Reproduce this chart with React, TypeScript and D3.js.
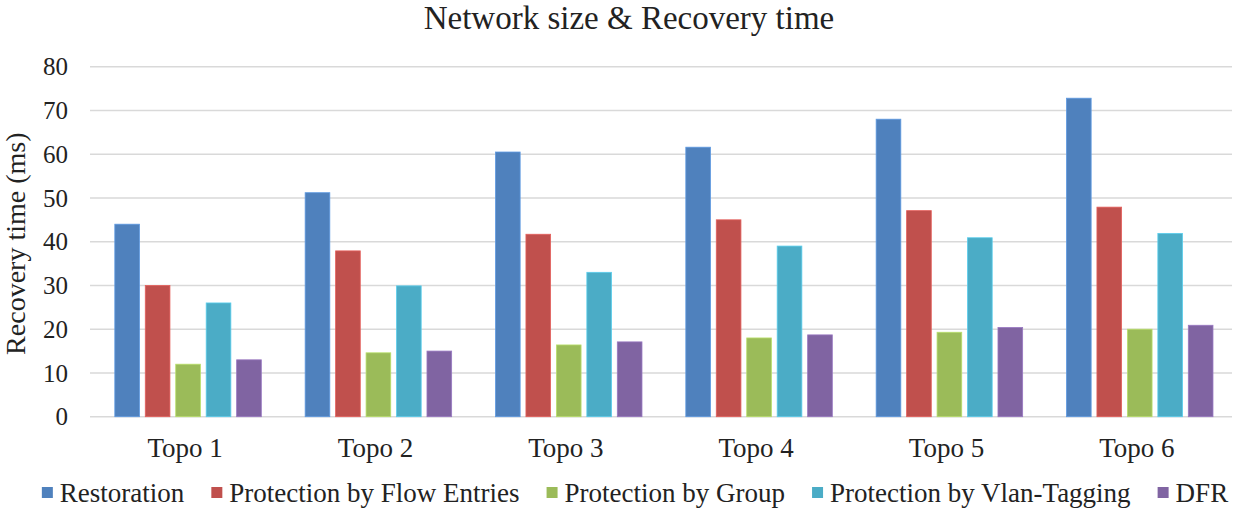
import React, { useEffect, useRef } from "react";
import * as d3 from "d3";

const categories = ["Topo 1", "Topo 2", "Topo 3", "Topo 4", "Topo 5", "Topo 6"];
const seriesNames = [
  "Restoration",
  "Protection by Flow Entries",
  "Protection by Group",
  "Protection by Vlan-Tagging",
  "DFR",
];
const restoration = [44, 51.2, 60.5, 61.6, 68, 72.8];
const flowEntries = [30, 37.9, 41.7, 45, 47.1, 47.9];
const group = [12, 14.6, 16.4, 18, 19.3, 20];
const vlan = [26, 29.9, 33, 39, 40.9, 41.9];
const dfr = [13, 15, 17.1, 18.7, 20.4, 20.9];
const seriesValues = [restoration, flowEntries, group, vlan, dfr];
const colors = ["#4f81bd", "#c0504d", "#9bbb59", "#4bacc6", "#8064a2"];
const yTicks = [0, 10, 20, 30, 40, 50, 60, 70, 80];

const W = 1250;
const H = 508;
const FONT = "'Liberation Serif', 'Times New Roman', serif";

export default function App() {
  const ref = useRef<SVGSVGElement>(null);

  useEffect(() => {
    const svg = d3.select(ref.current);
    svg.selectAll("*").remove();

    const left = 90, right = 1232, top = 66.7, bottom = 416.7;
    const x = d3.scaleBand<string>().domain(categories).range([left, right]).padding(0);
    const y = d3.scaleLinear().domain([0, 80]).range([bottom, top]);
    const inner = d3
      .scaleBand<number>()
      .domain(d3.range(seriesNames.length))
      .range([0, 146.5])
      .paddingInner(0.19)
      .paddingOuter(0);
    const groupOffset = (x.bandwidth() - 146.5) / 2 + 2.9;

    // title
    svg
      .append("text")
      .attr("x", 629)
      .attr("y", 29)
      .attr("text-anchor", "middle")
      .style("font-family", FONT)
      .style("font-size", "33px")
      .attr("fill", "#222")
      .text("Network size & Recovery time");

    // gridlines
    svg
      .append("g")
      .selectAll("line")
      .data(yTicks)
      .join("line")
      .attr("x1", left)
      .attr("x2", right)
      .attr("y1", (d) => y(d))
      .attr("y2", (d) => y(d))
      .attr("stroke", "#d9d9d9")
      .attr("stroke-width", 1.5);

    // y tick labels
    svg
      .append("g")
      .selectAll("text")
      .data(yTicks)
      .join("text")
      .attr("x", 68)
      .attr("y", (d) => y(d))
      .attr("dy", "0.35em")
      .attr("text-anchor", "end")
      .style("font-family", FONT)
      .style("font-size", "25px")
      .attr("fill", "#222")
      .text((d) => String(d));

    // y axis title
    svg
      .append("text")
      .attr("transform", `translate(25,${(top + bottom) / 2 + 2}) rotate(-90)`)
      .attr("text-anchor", "middle")
      .style("font-family", FONT)
      .style("font-size", "28px")
      .attr("fill", "#222")
      .text("Recovery time (ms)");

    // bars
    seriesValues.forEach((vals, si) => {
      svg
        .append("g")
        .selectAll("rect")
        .data(vals)
        .join("rect")
        .attr("x", (_, i) => (x(categories[i]) as number) + groupOffset + (inner(si) as number))
        .attr("y", (d) => y(d))
        .attr("width", inner.bandwidth())
        .attr("height", (d) => y(0) - y(d))
        .attr("fill", colors[si])
        .attr("stroke", d3.color(colors[si])!.brighter(0.5).formatHex())
        .attr("stroke-width", 0.8);
    });

    // category labels
    svg
      .append("g")
      .selectAll("text")
      .data(categories)
      .join("text")
      .attr("x", (d) => (x(d) as number) + x.bandwidth() / 2)
      .attr("y", 457)
      .attr("text-anchor", "middle")
      .style("font-family", FONT)
      .style("font-size", "27px")
      .attr("fill", "#222")
      .text((d) => d);

    // legend
    const lg = svg.append("g");
    const items = seriesNames.map((name, i) => {
      const g = lg.append("g");
      g.append("rect")
        .attr("x", 0)
        .attr("y", -6)
        .attr("width", 11)
        .attr("height", 11)
        .attr("fill", colors[i]);
      const t = g
        .append("text")
        .attr("x", 18)
        .attr("y", 0)
        .attr("dy", "0.35em")
        .style("font-family", FONT)
        .style("font-size", "27px")
        .attr("fill", "#222")
        .text(name);
      const w = 18 + (t.node() as SVGTextElement).getComputedTextLength();
      return { g, w };
    });
    const gap = 27;
    const total = d3.sum(items, (d) => d.w) + gap * (items.length - 1);
    let cx = 635 - total / 2;
    items.forEach((it) => {
      it.g.attr("transform", `translate(${cx},493)`);
      cx += it.w + gap;
    });
  }, []);

  return (
    <svg
      ref={ref}
      width={W}
      height={H}
      style={{ position: "absolute", left: 0, top: 0, background: "#fff" }}
    />
  );
}
